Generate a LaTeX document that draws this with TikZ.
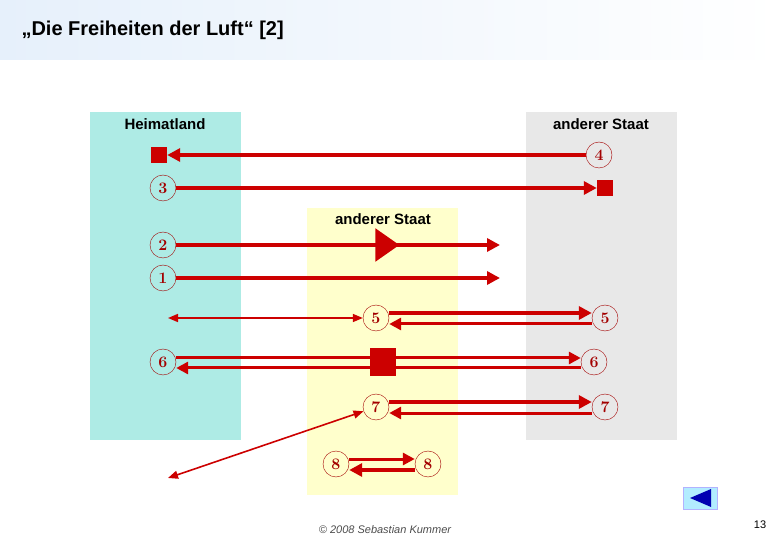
\documentclass[tikz,border=0pt]{standalone}
\usepackage{fontspec}
\setsansfont{Liberation Sans}
\usetikzlibrary{arrows.meta,shapes.geometric}
\definecolor{rd}{HTML}{CC0000}
\definecolor{cy}{HTML}{AEEBE5}
\definecolor{gy}{HTML}{E8E8E8}
\definecolor{yl}{HTML}{FFFFCC}
\definecolor{hb}{HTML}{E6F0FB}
\begin{document}
\begin{tikzpicture}[x=1pt,y=-1pt,
  num/.style={circle,draw=rd!80!black,thin,fill=none,inner sep=0pt,minimum size=26pt,text=rd!80!black,font=\bfseries\fontsize{16}{18}\selectfont},
  sq/.style={fill=rd,minimum size=16pt,inner sep=0pt},
  thick arr/.style={draw=rd,line width=3.5pt,-{Triangle[length=13pt,width=13pt]}},
  mid arr/.style={draw=rd,line width=3pt,-{Triangle[length=12pt,width=12pt]}},
  thin arr/.style={draw=rd,line width=1.6pt,{Triangle[length=10pt,width=8pt]}-{Triangle[length=10pt,width=8pt]}},
  lab/.style={font=\sffamily\bfseries\fontsize{15}{17}\selectfont}]
\useasboundingbox (0,0) rectangle (780,540);
\shade[left color=hb,right color=white] (0,0) rectangle (780,60);
\node[anchor=west,font=\sffamily\bfseries\fontsize{20}{24}\selectfont] (title) at (18,30) {„Die Freiheiten der Luft“ [2]};
\fill[cy] (90,112) rectangle (241,440);
\fill[gy] (526,112) rectangle (677,440);
\fill[yl] (307,208) rectangle (458,495);
\node[lab] (h) at (165,124) {Heimatland};
\node[lab] (a1) at (601,124) {anderer Staat};
\node[lab] (a2) at (383,219) {anderer Staat};
% row 4
\node[num] (c4) at (599,155) {4};
\node[sq] (s4) at (159,155) {};
\draw[thick arr] (c4) -- (s4);
% row 3
\node[num] (c3) at (163,188) {3};
\node[sq] (s3) at (605,188) {};
\draw[thick arr] (c3) -- (s3);
% row 2
\node[num] (c2) at (163,245) {2};
\coordinate (e2) at (500,245);
\draw[thick arr] (c2) -- (e2);
\node[isosceles triangle,fill=rd,minimum height=24pt,minimum width=26pt,inner sep=0pt,isosceles triangle apex angle=70] (t2) at (384,245) {};
% row 1
\node[num] (c1) at (163,278) {1};
\coordinate (e1) at (500,278);
\draw[thick arr] (c1) -- (e1);
% row 5
\node[num] (c5a) at (376,318) {5};
\node[num] (c5b) at (605,318) {5};
\coordinate (f5) at (168,318);
\draw[thin arr] (f5) -- (c5a);
\draw[thick arr] (c5a.east |- 0,313) -- (c5b.west |- 0,313);
\draw[mid arr] (c5b.west |- 0,324) -- (c5a.east |- 0,324);
% row 6
\node[num] (c6a) at (163,362) {6};
\node[num] (c6b) at (594,362) {6};
\draw[mid arr] (c6a.east |- 0,358) -- (c6b.west |- 0,358);
\draw[mid arr] (c6b.west |- 0,368) -- (c6a.east |- 0,368);
\node[fill=rd,minimum width=26pt,minimum height=28pt,inner sep=0pt] (s6) at (383,362) {};
% row 7
\node[num] (c7a) at (376,407) {7};
\node[num] (c7b) at (605,407) {7};
\coordinate (f7) at (168,478);
\draw[thin arr] (f7) -- (c7a);
\draw[thick arr] (c7a.east |- 0,402) -- (c7b.west |- 0,402);
\draw[mid arr] (c7b.west |- 0,413) -- (c7a.east |- 0,413);
% row 8
\node[num] (c8a) at (336,464) {8};
\node[num] (c8b) at (428,464) {8};
\draw[mid arr] (c8a.east |- 0,459) -- (c8b.west |- 0,459);
\draw[thick arr] (c8b.west |- 0,470) -- (c8a.east |- 0,470);
% footer
\node[font=\sffamily\itshape\fontsize{11}{13}\selectfont,text=black!70] (cp) at (385,530) {© 2008 Sebastian Kummer};
\node[fill=blue!25!cyan!30,draw=blue!30,minimum width=34pt,minimum height=22pt,inner sep=0pt] (btn) at (700,498) {};
\fill[blue!70!black] (690,498) -- (711,489) -- (711,507) -- cycle;
\node[font=\sffamily\fontsize{11}{13}\selectfont] (pg) at (760,525) {13};
\end{tikzpicture}
\end{document}
